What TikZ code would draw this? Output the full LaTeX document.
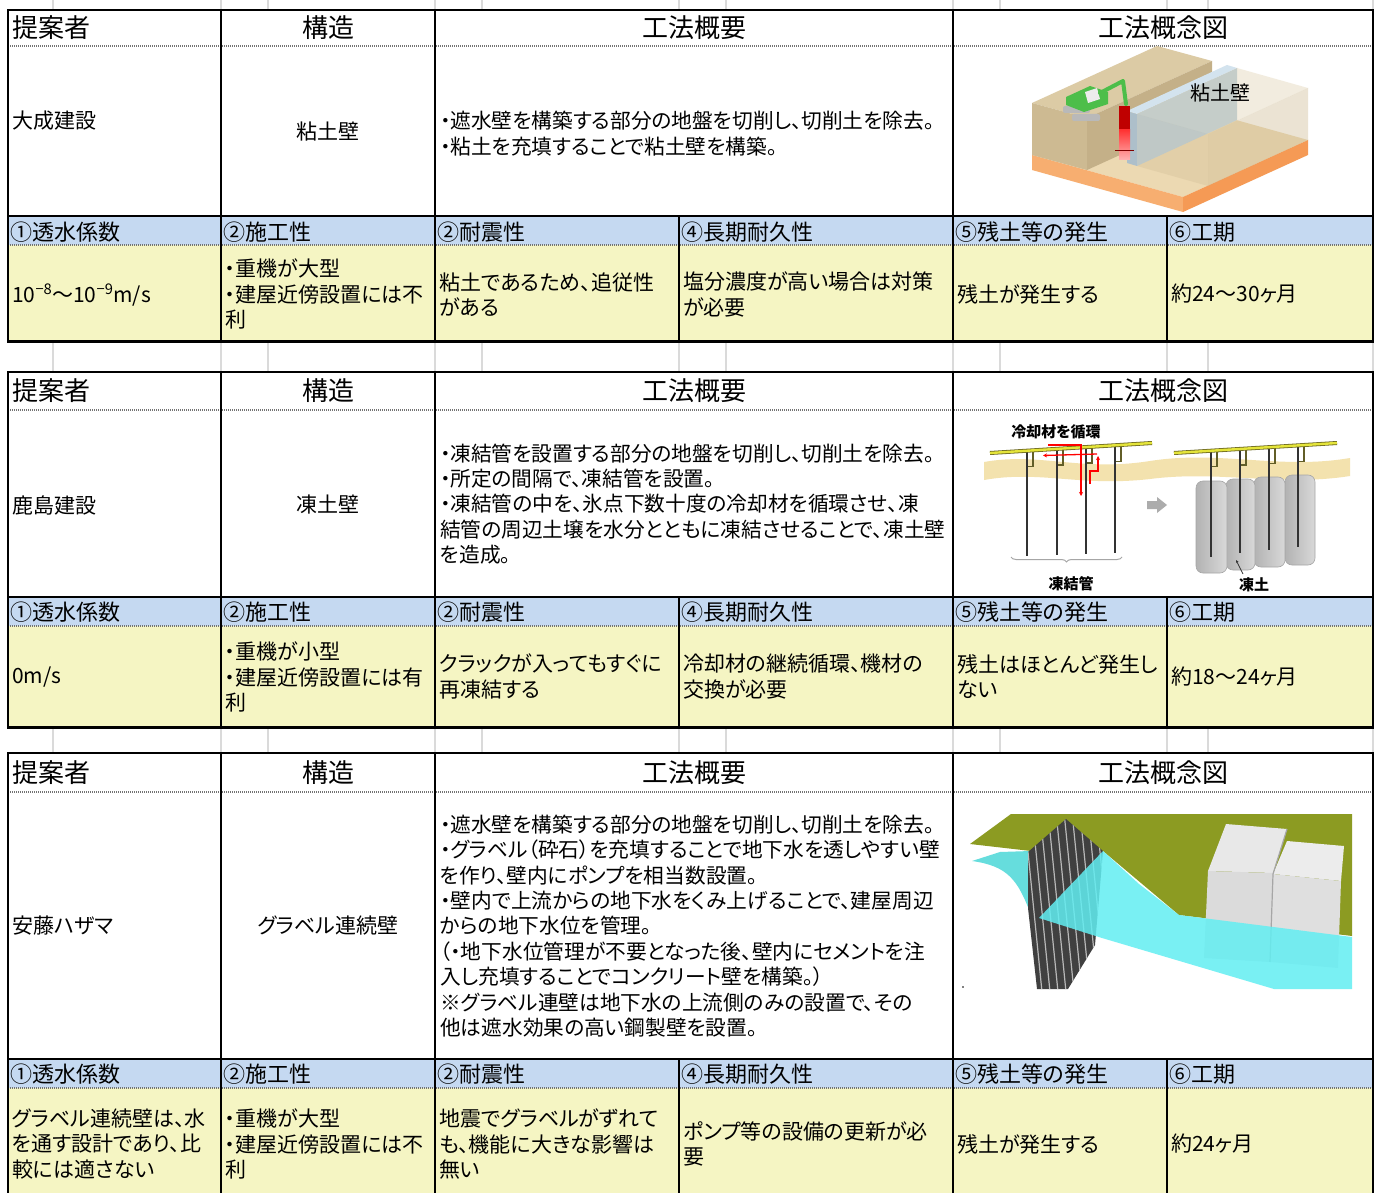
\documentclass[tikz,border=0pt]{standalone}
\usepackage{fontspec}
\setmainfont{Noto Sans CJK JP}[RawFeature={+palt}]
\usetikzlibrary{decorations.pathreplacing,arrows.meta}
\definecolor{hdrblue}{HTML}{C5D9F1}
\definecolor{cellyel}{HTML}{F5F5C3}
\definecolor{gridgray}{HTML}{DADADA}
\definecolor{tanband}{HTML}{F2DDA0}
\definecolor{pipeyel}{HTML}{E4E43A}
\definecolor{grass}{HTML}{8C9B22}
\definecolor{water}{HTML}{62EEF2}
\definecolor{beigetop}{HTML}{DCCBA5}
\definecolor{beigefront}{HTML}{CDBA92}
\definecolor{beigeside}{HTML}{C4B088}
\definecolor{soilorange}{HTML}{F7AE70}
\definecolor{soilorangeb}{HTML}{F59A55}
\definecolor{floortan}{HTML}{ECD9B2}
\definecolor{claywall}{HTML}{B9CFDD}
\definecolor{claytop}{HTML}{D3E3EE}
\definecolor{excgreen}{HTML}{4DBE4A}
\tikzset{
 rulethick/.style={line width=2.2pt, black},
 rulebottom/.style={line width=3pt, black},
 ruledot/.style={line width=1.8pt, black!55, dash pattern=on 1.2pt off 0.8pt},
 gridline/.style={line width=1.2pt, gridgray},
 hdrtext/.style={font=\fontsize{26}{30}\selectfont, inner sep=0pt},
 lbltext/.style={font=\fontsize{22}{26}\selectfont, anchor=west, inner sep=0pt},
 celltext/.style={font=\fontsize{21}{25.4}\selectfont, anchor=west, align=left, inner sep=0pt},
 overtext/.style={font=\fontsize{20.7}{25.4}\selectfont, anchor=west, align=left, inner sep=0pt},
 midtext/.style={font=\fontsize{21}{25.4}\selectfont, inner sep=0pt},
 figtext/.style={font=\bfseries\fontsize{15}{18}\selectfont, inner sep=0pt},
}
\newcommand\myframe[5]{%
 \fill[hdrblue] (8,#3) rectangle (1373,#4);
 \fill[cellyel] (8,#4) rectangle (1373,#5);
 \draw[ruledot] (8,#2) -- (1373,#2);
 \draw[ruledot] (8,#4) -- (1373,#4);
 \draw[rulethick] (7,#1) -- (1374,#1);
 \draw[rulethick] (7,#3) -- (1374,#3);
 \draw[rulebottom] (7,#5) -- (1374,#5);
 \foreach \xx in {8,221,435,953,1373} \draw[rulethick] (\xx,#1) -- (\xx,#5);
 \foreach \xx in {679,1167} \draw[rulethick] (\xx,#3) -- (\xx,#5);
}
\newcommand\mygaps[2]{%
 \foreach \xx in {53,221,268,435,482,679,726,953,1000,1167,1208,1373} \draw[gridline] (\xx,#1) -- (\xx,#2);
}
\newcommand\myheads[2]{%
 \node[hdrtext, anchor=west] (#1hA) at (12,#2) {提案者};
 \node[hdrtext] (#1hB) at (328,#2) {構造};
 \node[hdrtext] (#1hC) at (694,#2) {工法概要};
 \node[hdrtext] (#1hD) at (1163,#2) {工法概念図};
}
\newcommand\mylabels[2]{%
 \node[lbltext] (#1l1) at (10,#2) {①透水係数};
 \node[lbltext] (#1l2) at (223,#2) {②施工性};
 \node[lbltext] (#1l3) at (437,#2) {②耐震性};
 \node[lbltext] (#1l4) at (681,#2) {④長期耐久性};
 \node[lbltext] (#1l5) at (955,#2) {⑤残土等の発生};
 \node[lbltext] (#1l6) at (1169,#2) {⑥工期};
}
\begin{document}
\begin{tikzpicture}[x=1pt,y=-1pt]
\useasboundingbox (0,0) rectangle (1379,1193);
\fill[white] (0,0) rectangle (1379,1193);
% gaps
\mygaps{0}{10}
\mygaps{341}{372}
\mygaps{727}{753}
% frames
\myframe{10}{46}{216}{245}{341}
\myframe{372}{410}{597}{626}{727}
\myframe{753}{792}{1059}{1088}{1197}
% headers and labels
\myheads{a}{28}
\myheads{b}{391}
\myheads{c}{773}
\mylabels{a}{232}
\mylabels{b}{612}
\mylabels{c}{1074}
% ---- block 1 text
\node[celltext] (aname) at (12,121) {大成建設};
\node[midtext] (astruct) at (328,132) {粘土壁};
\node[overtext] (aover) at (440,133.5) {・遮水壁を構築する部分の地盤を切削し、切削土を除去。\\・粘土を充填することで粘土壁を構築。};
\node[celltext] (ay1) at (12,295) {10\textsuperscript{−8}～10\textsuperscript{−9}m/s};
\node[celltext] (ay2) at (225,294) {・重機が大型\\・建屋近傍設置には不\\利};
\node[celltext] (ay3) at (439,294.5) {粘土であるため、追従性\\がある};
\node[celltext] (ay4) at (683,294.5) {塩分濃度が高い場合は対策\\が必要};
\node[celltext] (ay5) at (957,294) {残土が発生する};
\node[celltext] (ay6) at (1171,294) {約24～30ヶ月};
% ---- block 2 text
\node[celltext] (bname) at (12,505) {鹿島建設};
\node[midtext] (bstruct) at (328,505) {凍土壁};
\node[overtext] (bover) at (440,504) {・凍結管を設置する部分の地盤を切削し、切削土を除去。\\・所定の間隔で、凍結管を設置。\\・凍結管の中を、氷点下数十度の冷却材を循環させ、凍\\結管の周辺土壌を水分とともに凍結させることで、凍土壁\\を造成。};
\node[celltext] (by1) at (12,677) {0m/s};
\node[celltext] (by2) at (225,677) {・重機が小型\\・建屋近傍設置には有\\利};
\node[celltext] (by3) at (439,676.5) {クラックが入ってもすぐに\\再凍結する};
\node[celltext] (by4) at (683,676.5) {冷却材の継続循環、機材の\\交換が必要};
\node[celltext] (by5) at (957,676.5) {残土はほとんど発生し\\ない};
\node[celltext] (by6) at (1171,677) {約18～24ヶ月};
% ---- block 3 text
\node[celltext] (cname) at (12,926) {安藤ハザマ};
\node[midtext] (cstruct) at (328,926) {グラベル連続壁};
\node[overtext] (cover) at (440,926) {・遮水壁を構築する部分の地盤を切削し、切削土を除去。\\・グラベル（砕石）を充填することで地下水を透しやすい壁\\を作り、壁内にポンプを相当数設置。\\・壁内で上流からの地下水をくみ上げることで、建屋周辺\\からの地下水位を管理。\\（・地下水位管理が不要となった後、壁内にセメントを注\\入し充填することでコンクリート壁を構築。）\\※グラベル連壁は地下水の上流側のみの設置で、その\\他は遮水効果の高い鋼製壁を設置。};
\node[celltext] (cy1) at (12,1144) {グラベル連続壁は、水\\を通す設計であり、比\\較には適さない};
\node[celltext] (cy2) at (225,1144) {・重機が大型\\・建屋近傍設置には不\\利};
\node[celltext] (cy3) at (439,1144) {地震でグラベルがずれて\\も、機能に大きな影響は\\無い};
\node[celltext] (cy4) at (683,1144) {ポンプ等の設備の更新が必\\要};
\node[celltext] (cy5) at (957,1144) {残土が発生する};
\node[celltext] (cy6) at (1171,1144) {約24ヶ月};
% ================= illustration 1
\fill[floortan] (1032,155) -- (1183,197) -- (1308,140) -- (1157,98) -- cycle;
\fill[soilorange] (1032,155) -- (1183,197) -- (1183,212) -- (1032,170) -- cycle;
\fill[soilorangeb] (1183,197) -- (1308,140) -- (1308,155) -- (1183,212) -- cycle;
\fill[beigetop] (1032,103) -- (1087,118) -- (1212,61) -- (1157,46) -- cycle;
\fill[beigefront] (1032,103) -- (1087,118) -- (1087,170) -- (1032,155) -- cycle;
\fill[beigeside] (1087,118) -- (1212,61) -- (1212,113) -- (1087,170) -- cycle;
\fill[claywall!80!gray] (1127,111) -- (1137,114) -- (1137,166) -- (1127,163) -- cycle;
\fill[claywall] (1137,114) -- (1237,68) -- (1237,120) -- (1137,166) -- cycle;
\fill[claytop] (1127,111) -- (1137,114) -- (1237,68) -- (1227,65) -- cycle;
\fill[beigetop, opacity=.35] (1137,114) -- (1237,68) -- (1308,88) -- (1208,134) -- cycle;
\fill[beigefront, opacity=.4] (1208,134) -- (1308,88) -- (1308,140) -- (1208,186) -- cycle;
\fill[beigefront, opacity=.3] (1137,114) -- (1208,134) -- (1208,186) -- (1137,166) -- cycle;
\fill[red!75!black] (1119,106) rectangle (1130,130);
\shade[top color=red!80, bottom color=red!30] (1119,130) rectangle (1130,160);
\draw[red!50!black, line width=0.8pt] (1115,150) -- (1134,150);
\fill[gray!55, rounded corners=2pt] (1063,106) rectangle (1090,113);
\fill[gray!55, rounded corners=2pt] (1072,114) rectangle (1100,121);
\fill[excgreen] (1066,97) -- (1090,86) -- (1108,92) -- (1108,104) -- (1084,112) -- (1066,105) -- cycle;
\fill[white!85!gray] (1085,92) -- (1097,88) -- (1100,99) -- (1088,103) -- cycle;
\draw[excgreen, line width=4pt, line cap=round, line join=round] (1100,93) -- (1123,81) -- (1126,104);
\node[font=\fontsize{20}{24}\selectfont, inner sep=0pt] (figonelbl) at (1220,93) {粘土壁};
% ================= illustration 2
\fill[tanband, opacity=.85] (984,462) .. controls (1040,452) and (1080,472) .. (1150,461) .. controls (1220,450) and (1280,470) .. (1350,458) -- (1350,476) .. controls (1280,487) and (1220,470) .. (1150,479) .. controls (1080,487) and (1040,470) .. (984,480) -- cycle;
\foreach \cx/\cw/\ct/\cb in {1285/30/475/565, 1254/31/477/567, 1226/29/479/570, 1196/31/481/573}
  \shade[left color=gray!60, right color=gray!30, rounded corners=7pt, draw=gray!70, line width=0.6pt] (\cx,\ct) rectangle ({\cx+\cw},\cb);
\foreach \px/\py/\pb in {1027/450.7/556, 1057/448.9/555, 1086/447.1/554, 1115/445.3/553} {
  \draw[black!80, line width=2.2pt] (\px,\py) -- (\px,\pb);
  \draw[olive!60!black, line width=1.3pt] ({\px+6},\py) -- ({\px+6},{\py+16}) -- ({\px+1},{\py+16});
}
\foreach \px/\py/\pb in {1211/450.7/557, 1240/449/553, 1269/447.2/550, 1298/445.4/547} {
  \draw[black!80, line width=2.2pt] (\px,\py) -- (\px,\pb);
  \draw[olive!60!black, line width=1.3pt] ({\px+6},\py) -- ({\px+6},{\py+16}) -- ({\px+1},{\py+16});
}
\draw[olive!70!black, line width=4pt] (990,453) -- (1152,443);
\draw[pipeyel, line width=2.4pt] (990,453) -- (1152,443);
\draw[olive!70!black, line width=4pt] (1174,453) -- (1337,443);
\draw[pipeyel, line width=2.4pt] (1174,453) -- (1337,443);
\draw[red, line width=1.3pt, -{Stealth[length=4pt,width=4pt]}] (1048,445) -- (1081,445) -- (1081,496);
\draw[red, line width=1.3pt, -{Stealth[length=4pt,width=4pt]}] (1097,454) -- (1043,455.5);
\draw[red, line width=1.3pt, -{Stealth[length=4pt,width=4pt]}] (1090,484) -- (1090,471) -- (1098,471) -- (1098,456);
\node[figtext] (figtwotop) at (1056,432) {冷却材を循環};
\draw[gray!70, line width=1pt, decorate, decoration={brace, mirror, amplitude=5pt}] (1011,557) -- (1122,557);
\node[figtext] (figtwopipe) at (1071,584) {凍結管};
\fill[gray!65] (1147,501) -- (1157,501) -- (1157,497) -- (1167,505) -- (1157,513) -- (1157,509) -- (1147,509) -- cycle;
\node[figtext] (figtwosoil) at (1254,585) {凍土};
\draw[black!80, line width=0.8pt, -{Stealth[length=3pt,width=3pt]}] (1243,574) -- (1236,560);
% ================= illustration 3
\fill[grass] (970,844) -- (1011,814) -- (1352,814) -- (1352,936) -- (1179,915) -- (1103,851) -- (1031,851) -- cycle;
\fill[teal!45!cyan!60] (972,861) -- (1000,852) -- (1031,851) -- (1031,915) .. controls (1018,880) and (1008,866) .. (972,861) -- cycle;
\fill[gray!18] (1226,824) -- (1287,829) -- (1273,873) -- (1208,871) -- cycle;
\fill[gray!28] (1208,871) -- (1273,873) -- (1270,962) -- (1204,958) -- cycle;
\fill[gray!15] (1287,841) -- (1344,846) -- (1341,881) -- (1273,874) -- cycle;
\fill[gray!25] (1273,874) -- (1341,881) -- (1338,968) -- (1270,962) -- cycle;
\draw[gray!70, line width=1.2pt] (1287,829) -- (1273,874) -- (1270,962);
\begin{scope}
\clip (1028,852) -- (1066,819) -- (1103,851) -- (1095,945) -- (1068,989) -- (1037,989) -- (1028,908) -- cycle;
\fill[black!75] (1020,810) rectangle (1110,995);
\foreach \sx in {1000,1008,...,1110} \draw[gray!55, line width=1.2pt] (\sx,812) -- ({\sx+18},992);
\end{scope}
\fill[water, opacity=.85] (1039,918) -- (1103,851) -- (1139,884) -- (1179,915) -- (1352,937) -- (1352,989) -- (1274,989) -- (1102,938) -- cycle;
\fill[black] (963,987) circle (0.8pt);
\end{tikzpicture}
\end{document}
